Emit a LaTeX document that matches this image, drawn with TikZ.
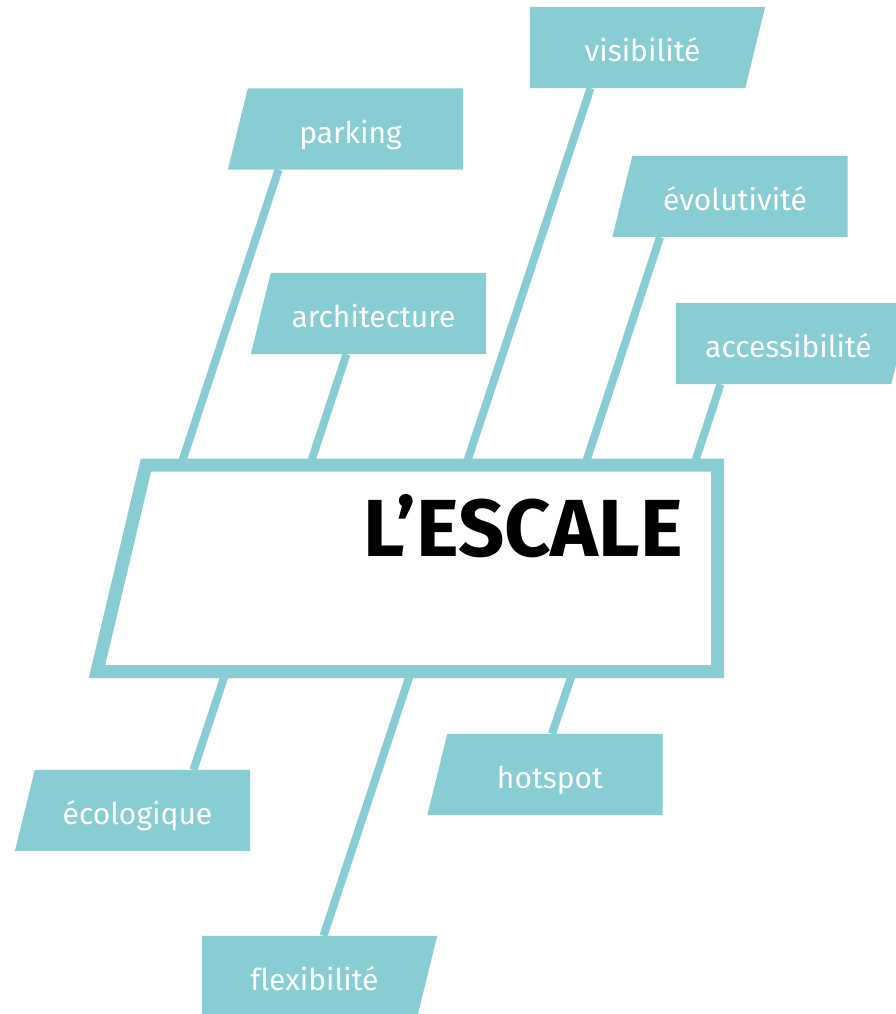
\documentclass[tikz,border=0pt]{standalone}
\usepackage{fontspec}
\setmainfont{Fira Sans}[Ligatures=NoCommon]
\usepackage{tikz}
\usetikzlibrary{positioning,calc,backgrounds}
\definecolor{escteal}{RGB}{135,205,211}
\tikzset{
  tagbox/.style={minimum width=225pt, minimum height=81pt, inner sep=0pt, text height=30pt, text depth=2pt, text=white, font=\fontsize{30}{36}\selectfont},
  link/.style={draw=escteal, line width=8pt},
  frame/.style={draw=escteal, fill=white, line width=13pt, line join=miter},
  title/.style={font=\fontsize{81}{90}\selectfont\bfseries, inner sep=0pt}
}

\begin{document}
\begin{tikzpicture}[x=1pt, y=-1pt]
\useasboundingbox (0,0) rectangle (895,1014);
\clip (0,0) rectangle (895,1014);
% tags above the frame
\node[tagbox] (vis) at (642.5,47.5) {visibilité};
\node[tagbox] (park) at (350.5,129) {parking};
\node[tagbox] (evol) at (735,196.5) {évolutivité};
\node[tagbox] (arch) at (373.5,313.5) {architecture};
\node[tagbox] (acc) at (788.5,343.5) {accessibilité};
% tags below the frame
\node[tagbox] (hot) at (550,774.5) {hotspot};
\node[tagbox] (eco) at (137.5,810.5) {écologique};
\node[tagbox] (flex) at (314.5,976.5) {flexibilité};
% frame corners and link ends
\coordinate (bnw) at (146,465);
\coordinate (bne) at (717.5,465);
\coordinate (bse) at (717.5,671.5);
\coordinate (bsw) at (97,671.5);
\coordinate (parkend) at (181,465);
\coordinate (archend) at (310,465);
\coordinate (visend) at (466,465);
\coordinate (evolend) at (585,465);
\coordinate (accend) at (694,465);
\coordinate (ecoend) at (226,671.5);
\coordinate (flexend) at (411,671.5);
\coordinate (hotend) at (573,671.5);
\begin{scope}[on background layer]
\foreach \n in {park,arch,evol,hot,eco}
  \fill[escteal] ([xshift=10pt]\n.north west) -- (\n.north east) -- (\n.south east) -- ([xshift=-10pt]\n.south west) -- cycle;
\foreach \n in {vis,acc,flex}
  \fill[escteal] (\n.north west) -- ([xshift=10pt]\n.north east) -- ([xshift=-10pt]\n.south east) -- (\n.south west) -- cycle;
\draw[link] ([xshift=-72pt]park.south) -- (parkend);
\draw[link] ([xshift=-27pt]arch.south) -- (archend);
\draw[link] ([xshift=-52pt]vis.south) -- (visend);
\draw[link] ([xshift=-75pt]evol.south) -- (evolend);
\draw[link] ([xshift=-68pt]acc.south) -- (accend);
\draw[link] ([xshift=56pt]eco.north) -- (ecoend);
\draw[link] ([xshift=9pt]flex.north) -- (flexend);
\draw[link] ([xshift=2pt]hot.north) -- (hotend);
\end{scope}
\draw[frame] (bnw) -- (bne) -- (bse) -- (bsw) -- cycle;
\node[title, anchor=base east] (name) at (683,556) {L’ESCALE};
\end{tikzpicture}
\end{document}
